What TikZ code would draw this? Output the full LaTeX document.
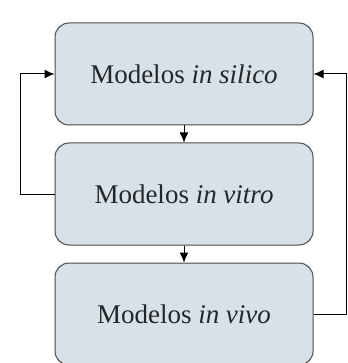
\documentclass[tikz,border=0pt]{standalone}
\usepackage{fontspec}
\setmainfont{Liberation Serif}
\usetikzlibrary{positioning,arrows.meta}

\definecolor{boxfill}{HTML}{D6E1EA}
\definecolor{boxline}{HTML}{4A4A4A}

\begin{document}
\begin{tikzpicture}
[x=0.5pt, y=-0.5pt, node distance = 60pt, on grid, >={Latex[length=5pt,width=4.5pt]},
 model/.style={draw=boxline, fill=boxfill, line width=0.5pt, rounded corners=7pt,
   minimum width=129pt, minimum height=51pt, font=\fontsize{13.5}{16}\selectfont, text=black!85}]

\useasboundingbox (0,0) rectangle (347,363);

\node [model] (silico) at (184,74) {Modelos \textit{in silico}};
\node [model, below=of silico] (vitro) {Modelos \textit{in vitro}};
\node [model, below=of vitro] (vivo) {Modelos \textit{in vivo}};

\draw[->, line width=0.5pt] (silico) -- (vitro);
\draw[->, line width=0.5pt] (vitro) -- (vivo);

% feedback loops
\draw[->, line width=0.5pt] (vitro.west) -- ++(-34,0) |- (silico.west);
\draw[->, line width=0.5pt] (vivo.east) -- ++(33,0) |- (silico.east);

\end{tikzpicture}
\end{document}
